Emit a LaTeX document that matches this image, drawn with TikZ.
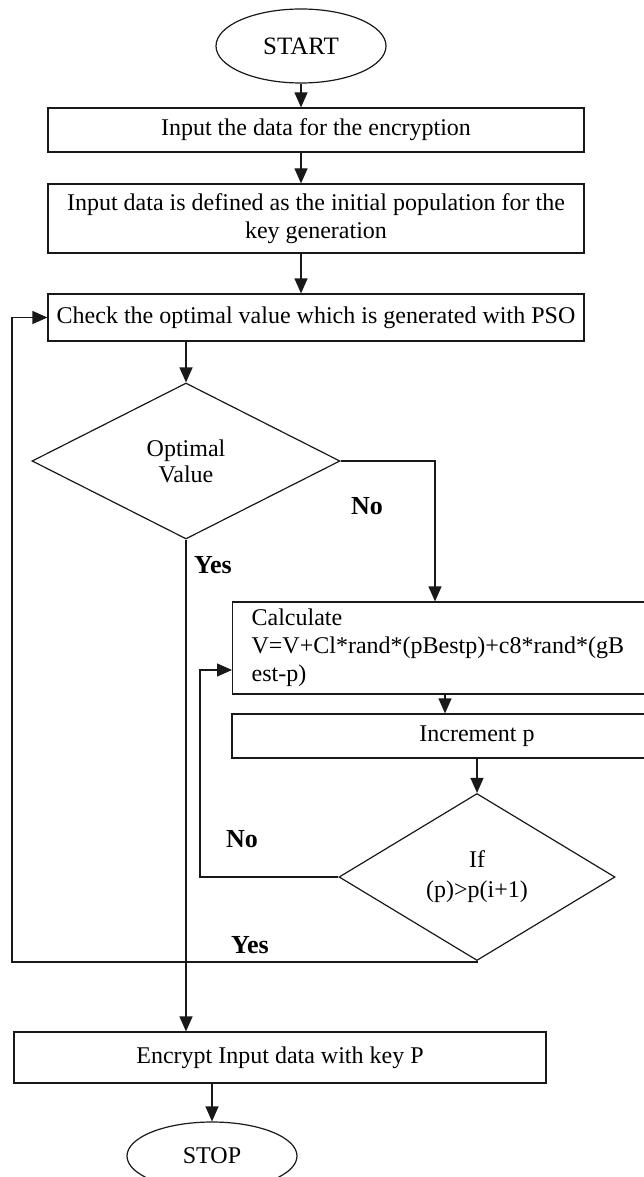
\documentclass[tikz,border=0pt]{standalone}
\usepackage{fontspec}
\setmainfont{Liberation Serif}
\usetikzlibrary{shapes.geometric,arrows.meta}
\tikzset{
  every node/.style={font=\fontsize{24}{28}\selectfont},
  line/.style={draw=black!90, line width=1.2pt},
  arr/.style={line, -{Triangle[width=13pt,length=15pt]}},
  procbox/.style={line, rectangle, inner sep=0pt, align=center},
  decide/.style={line, diamond, inner sep=0pt, align=center},
  term/.style={line, ellipse, inner sep=0pt},
  lbl/.style={font=\fontsize{26}{30}\selectfont\bfseries}
}
\begin{document}
\begin{tikzpicture}[x=1pt,y=-1pt]
\useasboundingbox (0,0) rectangle (643,1177);

% terminals
\node[term, minimum width=170pt, minimum height=74pt, font=\fontsize{25}{28}\selectfont] (start) at (301,46) {START};
\node[term, minimum width=170pt, minimum height=68pt] (stop) at (212,1156) {STOP};

% process boxes
\node[procbox, minimum width=536pt, minimum height=44pt] (b1) at (316,130) {Input the data for the encryption};
\node[procbox, minimum width=536pt, minimum height=69pt] (b2) at (316,218.5) {Input data is defined as the initial population for the\\key generation};
\node[procbox, minimum width=536pt, minimum height=47pt] (b3) at (316,317.5) {Check the optimal value which is generated with PSO};
\node[procbox, minimum width=490pt, minimum height=92pt, text width=452pt, align=left, inner xsep=19pt, anchor=west] (b4) at (232,648) {Calculate\\V=V+Cl*rand*(pBestp)+c8*rand*(gB\\est-p)};
\node[procbox, minimum width=490pt, minimum height=44pt] (b5) at (477,736) {Increment p};
\node[procbox, minimum width=532pt, minimum height=51pt] (b6) at (280,1057.5) {Encrypt Input data with key P};

% decisions
\node[decide, minimum width=308pt, minimum height=156pt] (d1) at (186,461) {Optimal\\[-2pt]Value};
\node[decide, minimum width=276pt, minimum height=167pt] (d2) at (477,877) {If\\[2pt](p)>p(i+1)};

% helper coordinates
\coordinate (nox) at (435,0);
\coordinate (b45x) at (445,0);
\coordinate (loopx) at (200,0);
\coordinate (loopy) at (0,670);
\coordinate (outx) at (12,0);
\coordinate (yesy) at (0,962);

% connectors
\draw[arr] (start.south) -- (start.south |- b1.north);
\draw[arr] (b1.south -| start.south) -- (b2.north -| start.south);
\draw[arr] (b2.south -| start.south) -- (b3.north -| start.south);
\draw[arr] (b3.south -| d1.north) -- (d1.north);
\draw[arr] (d1.east) -| (nox |- b4.north);
\draw[arr] (d1.south) -- (d1.south |- b6.north);
\draw[arr] (b4.south -| b45x) -- (b5.north -| b45x);
\draw[arr] (b5.south -| d2.north) -- (d2.north);
\draw[arr] (d2.west) -- (loopx |- d2.west) |- (b4.west |- loopy);
\draw[arr] (d2.south) -- (yesy -| d2.south) -- (outx |- yesy) |- (b3.west);
\draw[arr] (b6.south -| stop.north) -- (stop.north);

% labels
\node[lbl] (lno1) at (367,506) {No};
\node[lbl] (lyes1) at (213,565) {Yes};
\node[lbl] (lno2) at (242,839) {No};
\node[lbl] (lyes2) at (250,945) {Yes};
\end{tikzpicture}
\end{document}
